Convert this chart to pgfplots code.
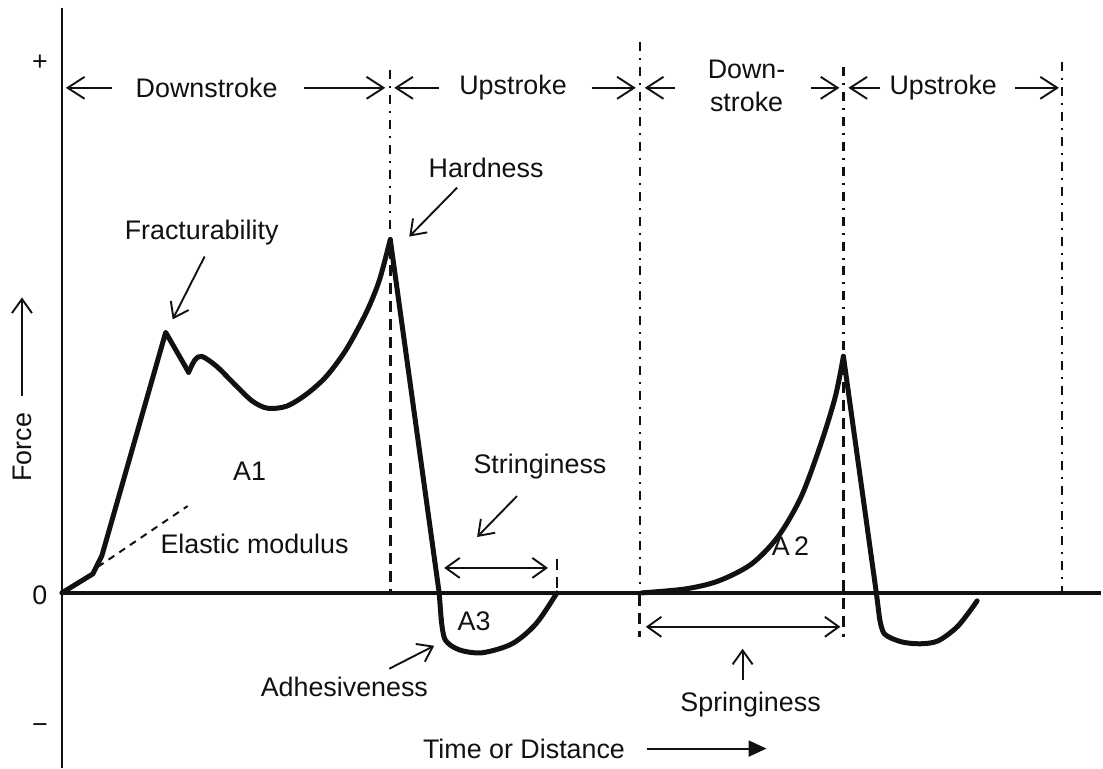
\documentclass[border=0pt]{standalone}
\usepackage{pgfplots}
\pgfplotsset{compat=1.18}
\usepackage{fontspec}
\setmainfont{Liberation Sans}
\usetikzlibrary{arrows.meta}
\definecolor{ink}{HTML}{111111}
\begin{document}
\begin{tikzpicture}[
  lbl/.style={font=\fontsize{27}{31}\selectfont, text=ink, inner sep=0pt},
  curve/.style={ink, line width=5bp, line join=round, line cap=round},
  dd/.style={ink, line width=2.3bp, dash pattern=on 9bp off 7bp on 2bp off 7bp},
  ds/.style={ink, line width=2.8bp, dash pattern=on 11bp off 7bp},
  ann/.style={ink, line width=1.9bp},
  bigtip/.style={-{Straight Barb[length=17bp,width=22bp,line width=1.9bp]}},
  tip/.style={-{Straight Barb[length=14bp,width=20bp,line width=1.9bp]}},
  bothtip/.style={{Straight Barb[length=14bp,width=20bp,line width=1.9bp]}-{Straight Barb[length=14bp,width=20bp,line width=1.9bp]}},
]
\begin{axis}[scale only axis, width=1103bp, height=769bp,
  xmin=0, xmax=1103, ymin=0, ymax=769, y dir=reverse,
  axis lines=none, clip=false,
  every axis plot/.append style={forget plot},
]
% bounding box
\addplot[draw=none] coordinates {(0,0) (1103,769)};
% axes
\addplot[ink, line width=2.6bp] coordinates {(62,8) (62,769)};
\addplot[ink, line width=4.2bp] coordinates {(62,594) (1103,594)};
% vertical guide lines
\addplot[dd] coordinates {(391,70) (391,234)};
\addplot[ds] coordinates {(391,248) (391,594)};
\addplot[dd] coordinates {(641,42) (641,594)};
\addplot[ds] coordinates {(641,596) (641,638)};
\addplot[dd] coordinates {(845,67) (845,352)};
\addplot[ds] coordinates {(845,365) (845,638)};
\addplot[dd] coordinates {(1064,62) (1064,594)};
\addplot[ds] coordinates {(558,560) (558,594)};
% elastic modulus
\addplot[ink, line width=2bp, dash pattern=on 7bp off 6bp] coordinates {(98,568) (188,507)};
% main curve
\addplot[curve] coordinates {(62,594) (93,575) (102,557) (166,333) (189,373)};
\addplot[curve, smooth, tension=0.5] coordinates {(189,373) (195,361) (202,357) (217,367) (237,387) (253,402) (268,409) (287,407) (307,395) (327,377) (347,350) (367,313) (380,281) (391,240)};
\addplot[curve] coordinates {(391,240) (440,594) (442,620)};
\addplot[curve, smooth, tension=0.5] coordinates {(442,620) (446,641) (460,651) (483,654) (513,645) (537,625) (558,594)};
% second cycle
\addplot[curve, smooth, tension=0.5] coordinates {(643,594) (687,590) (720,582) (753,565) (780,537) (803,497) (823,443) (837,397) (845,357)};
\addplot[curve] coordinates {(845,357) (878,594) (881,618)};
\addplot[curve, smooth, tension=0.5] coordinates {(881,618) (886,635) (903,643) (922,645) (940,642) (960,627) (979,602)};
% top arrows
\addplot[ann, bigtip] coordinates {(112,88) (66,88)};
\addplot[ann, bigtip] coordinates {(305,88) (386,88)};
\addplot[ann, bigtip] coordinates {(440,88) (395,88)};
\addplot[ann, bigtip] coordinates {(593,88) (637,88)};
\addplot[ann, bigtip] coordinates {(676,88) (646,88)};
\addplot[ann, bigtip] coordinates {(813,88) (841,88)};
\addplot[ann, bigtip] coordinates {(882,88) (850,88)};
\addplot[ann, bigtip] coordinates {(1017,88) (1061,88)};
% annotation arrows
\addplot[ann, tip] coordinates {(205,257) (173,320)};
\addplot[ann, tip] coordinates {(458,188) (410,237)};
\addplot[ann, tip] coordinates {(518,497) (478,538)};
\addplot[ann, tip] coordinates {(390,670) (435,647)};
\addplot[ann, bothtip] coordinates {(445,569) (549,569)};
\addplot[ann, bothtip] coordinates {(647,628) (842,628)};
\addplot[ann, tip] coordinates {(744,681) (744,650)};
\addplot[ann, line width=2bp, -{Triangle[length=18bp,width=16bp]}] coordinates {(648,750) (768,750)};
\addplot[ann, tip] coordinates {(22,397) (22,298)};
% texts
\node[lbl] at (axis cs:40,63) {+};
\node[lbl] at (axis cs:40,596) {0};
\node[lbl] at (axis cs:40,730) {−};
\node[lbl, rotate=90] at (axis cs:22,448) {Force};
\node[lbl] at (axis cs:525,750) {Time or Distance};
\node[lbl] at (axis cs:207,88) {Downstroke};
\node[lbl] at (axis cs:514,88) {Upstroke};
\node[lbl] at (axis cs:748,70) {Down-};
\node[lbl] at (axis cs:748,102) {stroke};
\node[lbl] at (axis cs:945,88) {Upstroke};
\node[lbl] at (axis cs:202,233) {Fracturability};
\node[lbl] at (axis cs:487,168) {Hardness};
\node[lbl] at (axis cs:250,472) {A1};
\node[lbl] at (axis cs:255,545) {Elastic modulus};
\node[lbl] at (axis cs:541,467) {Stringiness};
\node[lbl] at (axis cs:475,622) {A3};
\node[lbl] at (axis cs:345,688) {Adhesiveness};
\node[lbl] at (axis cs:792,547) {A\,2};
\node[lbl] at (axis cs:752,706) {Springiness};
\end{axis}
\end{tikzpicture}
\end{document}
